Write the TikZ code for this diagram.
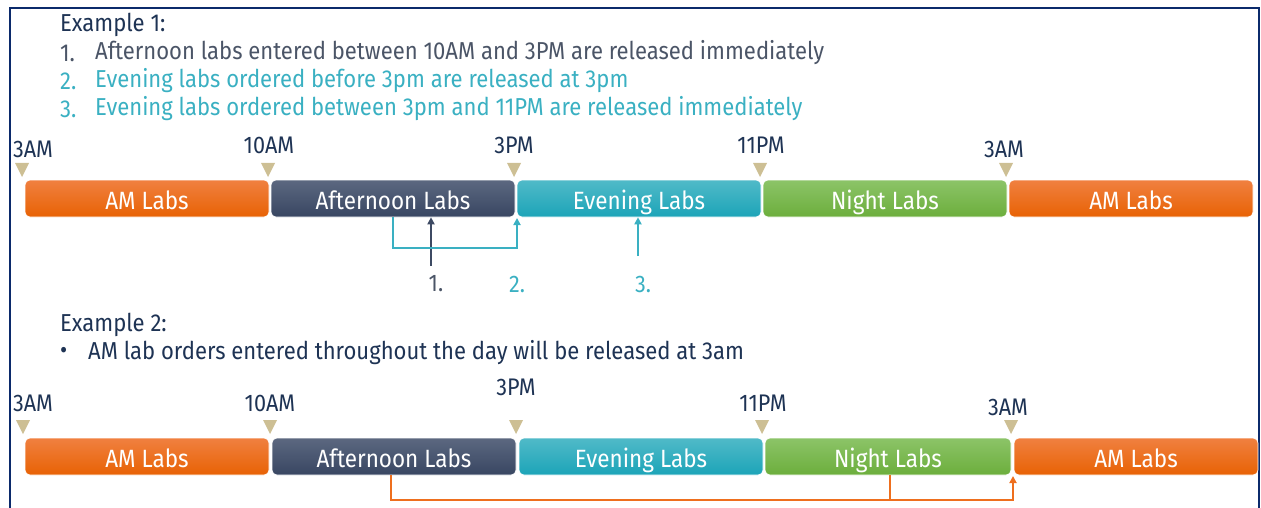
\documentclass[tikz,border=0pt]{standalone}
\usepackage{fontspec}
\setmainfont{Fira Sans}[FakeStretch=0.9]
\usetikzlibrary{arrows.meta,positioning}

\definecolor{framecol}{HTML}{0B2A6B}
\definecolor{navytext}{HTML}{1E3354}
\definecolor{slatetext}{HTML}{4B5567}
\definecolor{tealtext}{HTML}{3AB0C2}
\definecolor{tickcol}{HTML}{CDBF94}
\definecolor{orangeline}{HTML}{EE6F1E}
\definecolor{slateline}{HTML}{3D4A63}

\tikzset{
  bar/.style={rounded corners=5pt, minimum width=244pt, minimum height=37pt,
    inner sep=0pt, text=white, font=\fontsize{25}{27}\selectfont, draw=white, line width=0.6pt,
    text height=21pt, text depth=0pt},
  ambar/.style={bar, top color={rgb,255:red,240;green,128;blue,64}, bottom color={rgb,255:red,232;green,98;blue,4}},
  aftbar/.style={bar, top color={rgb,255:red,92;green,104;blue,128}, bottom color={rgb,255:red,56;green,70;blue,98}},
  evebar/.style={bar, top color={rgb,255:red,80;green,186;blue,200}, bottom color={rgb,255:red,28;green,164;blue,184}},
  nightbar/.style={bar, top color={rgb,255:red,140;green,196;blue,104}, bottom color={rgb,255:red,108;green,174;blue,60}},
  timelab/.style={text=navytext, font=\fontsize{24}{26}\selectfont, inner sep=0pt},
  listtext/.style={anchor=west, inner sep=0pt, font=\fontsize{24.5}{27}\selectfont},
  numlab/.style={inner sep=0pt, font=\fontsize{24}{26}\selectfont},
  conn/.style={line width=2.5pt, -{Triangle[length=7pt,width=7pt]}},
}

\begin{document}
\begin{tikzpicture}[x=1pt, y=-1pt]
\useasboundingbox ( 0, 0 ) rectangle ( 1261, 508 );

%% Frame
\draw [framecol, line width=2.5pt] ( 10, 510 ) -- ( 10, 8 ) -- ( 1259, 8 ) -- ( 1259, 510 );

%% Example 1 text
\node [listtext, text=navytext] (ex1) at ( 60, 25 ) {Example 1:};
\node [listtext, text=slatetext] (n1) at ( 60, 53 ) {1.};
\node [listtext, text=slatetext] (t1) at ( 95, 53 ) {Afternoon labs entered between 10AM and 3PM are released immediately};
\node [listtext, text=tealtext] (n2) at ( 60, 81 ) {2.};
\node [listtext, text=tealtext] (t2) at ( 95, 81 ) {Evening labs ordered before 3pm are released at 3pm};
\node [listtext, text=tealtext] (n3) at ( 60, 109 ) {3.};
\node [listtext, text=tealtext] (t3) at ( 95, 109 ) {Evening labs ordered between 3pm and 11PM are released immediately};

%% Timeline 1
\node [ambar] (am1) at ( 147, 198.5 ) {AM Labs};
\node [aftbar] (aft1) at ( 393, 198.5 ) {Afternoon Labs};
\node [evebar] (eve1) at ( 639, 198.5 ) {Evening Labs};
\node [nightbar] (ngt1) at ( 885, 198.5 ) {Night Labs};
\node [ambar] (amb1) at ( 1131, 198.5 ) {AM Labs};

% Ticks
\fill [tickcol] ( 15, 163 ) -- ++( 14, 0 ) -- ++( -7, 14 ) -- cycle;
\fill [tickcol] ( 261, 163 ) -- ++( 14, 0 ) -- ++( -7, 14 ) -- cycle;
\fill [tickcol] ( 507, 163 ) -- ++( 14, 0 ) -- ++( -7, 14 ) -- cycle;
\fill [tickcol] ( 753, 163 ) -- ++( 14, 0 ) -- ++( -7, 14 ) -- cycle;
\fill [tickcol] ( 999, 163 ) -- ++( 14, 0 ) -- ++( -7, 14 ) -- cycle;

\node [timelab] (a3am1) at ( 33, 149 ) {3AM};
\node [timelab] (a10am1) at ( 269, 145 ) {10AM};
\node [timelab] (a3pm1) at ( 514, 145 ) {3PM};
\node [timelab] (a11pm1) at ( 761, 145 ) {11PM};
\node [timelab] (b3am1) at ( 1004, 149 ) {3AM};

% Release arrows
\node [numlab, text=slatetext] (r1) at ( 436, 284 ) {1.};
\node [numlab, text=tealtext] (r2) at ( 517, 284 ) {2.};
\node [numlab, text=tealtext] (r3) at ( 643, 284 ) {3.};
\coordinate (p1) at ( 431, 266 );
\coordinate (p3) at ( 638, 256 );
\coordinate (s2) at ( 393, 217 );
\coordinate (e2) at ( 517, 218 );

\draw [conn, slateline] (p1) -- (p1 |- aft1.south);
\draw [conn, tealtext] (s2) -- ++( 0, 31 ) -| (e2);
\draw [conn, tealtext] (p3) -- (p3 |- eve1.south);

%% Example 2 text
\node [listtext, text=navytext] (ex2) at ( 60, 325 ) {Example 2:};
\node [listtext, text=navytext] (bul) at ( 60, 353 ) {\textbullet};
\node [listtext, text=navytext] (t4) at ( 88, 353 ) {AM lab orders entered throughout the day will be released at 3am};

%% Timeline 2
\node [ambar] (am2) at ( 147, 456.5 ) {AM Labs};
\node [aftbar] (aft2) at ( 394, 456.5 ) {Afternoon Labs};
\node [evebar] (eve2) at ( 641, 456.5 ) {Evening Labs};
\node [nightbar, minimum width=246pt] (ngt2) at ( 888, 456.5 ) {Night Labs};
\node [ambar] (amb2) at ( 1136, 456.5 ) {AM Labs};

% Ticks
\fill [tickcol] ( 16, 420 ) -- ++( 14, 0 ) -- ++( -7, 14 ) -- cycle;
\fill [tickcol] ( 263, 420 ) -- ++( 14, 0 ) -- ++( -7, 14 ) -- cycle;
\fill [tickcol] ( 509, 420 ) -- ++( 14, 0 ) -- ++( -7, 14 ) -- cycle;
\fill [tickcol] ( 755, 420 ) -- ++( 14, 0 ) -- ++( -7, 14 ) -- cycle;
\fill [tickcol] ( 1004, 420 ) -- ++( 14, 0 ) -- ++( -7, 14 ) -- cycle;

\node [timelab] (a3am2) at ( 33, 403 ) {3AM};
\node [timelab] (a10am2) at ( 270, 403 ) {10AM};
\node [timelab] (a3pm2) at ( 516, 387 ) {3PM};
\node [timelab] (a11pm2) at ( 763, 403 ) {11PM};
\node [timelab] (b3am2) at ( 1008, 407 ) {3AM};

% Release arrow
\coordinate (s4) at ( 391, 475 );
\coordinate (s5) at ( 890, 475 );
\coordinate (e4) at ( 1013, 476 );
\draw [orangeline, line width=2.5pt] (s5) -- ++( 0, 25 );
\draw [conn, orangeline] (s4) -- ++( 0, 25 ) -| (e4);

\end{tikzpicture}
\end{document}
